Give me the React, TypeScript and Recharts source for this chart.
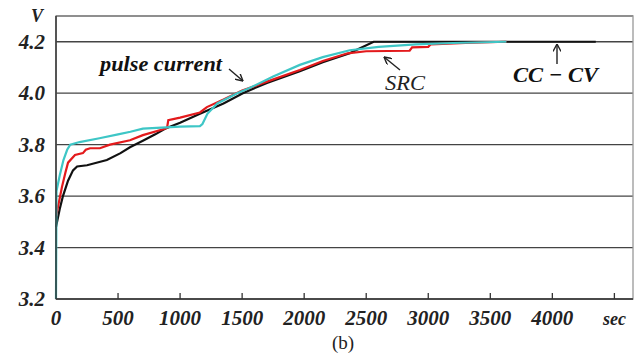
import {
  LineChart,
  Line,
  XAxis,
  YAxis,
  CartesianGrid,
  ReferenceArea,
} from "recharts";

// CC-CV charging (black)
const ccTime = [0, 30, 56, 97, 137, 170, 250, 410, 520, 596, 700, 800, 878, 1000, 1160, 1350, 1506, 1700, 1965, 2150, 2367, 2450, 2560, 4350];
const ccVolt = [3.48, 3.55, 3.6, 3.66, 3.7, 3.715, 3.72, 3.74, 3.767, 3.79, 3.815, 3.84, 3.862, 3.885, 3.92, 3.96, 4.0, 4.04, 4.085, 4.12, 4.155, 4.175, 4.2, 4.2];

// SRC charging (red)
const srcTime = [0, 25, 48, 75, 97, 153, 217, 240, 274, 354, 435, 596, 700, 878, 895, 905, 1000, 1160, 1216, 1350, 1500, 1700, 1965, 2150, 2350, 2500, 2850, 2870, 3000, 3020, 3300, 3630];
const srcVolt = [3.52, 3.58, 3.635, 3.69, 3.73, 3.76, 3.767, 3.78, 3.786, 3.786, 3.8, 3.817, 3.837, 3.862, 3.866, 3.895, 3.905, 3.925, 3.946, 3.975, 4.01, 4.045, 4.09, 4.125, 4.155, 4.163, 4.165, 4.178, 4.18, 4.19, 4.195, 4.2];

// pulse current charging (cyan)
const pulseTime = [0, 4, 30, 60, 90, 115, 190, 350, 500, 600, 700, 850, 1000, 1160, 1180, 1220, 1300, 1460, 1560, 1750, 1965, 2150, 2367, 2600, 2900, 3200, 3630];
const pulseVolt = [3.2, 3.62, 3.68, 3.74, 3.78, 3.8, 3.81, 3.825, 3.84, 3.85, 3.862, 3.866, 3.87, 3.872, 3.88, 3.92, 3.96, 4.0, 4.02, 4.065, 4.11, 4.14, 4.167, 4.18, 4.19, 4.195, 4.2];

const xTicks = [0, 500, 1000, 1500, 2000, 2500, 3000, 3500, 4000, 4500];
const yTicks = [3.2, 3.4, 3.6, 3.8, 4.0, 4.2];

const toRows = (t: number[], v: number[]) => t.map((x, i) => ({ t: x, v: v[i] }));

const ccData = toRows(ccTime, ccVolt);
const srcData = toRows(srcTime, srcVolt);
const pulseData = toRows(pulseTime, pulseVolt);

const serif = { fontFamily: "Liberation Serif" };
const boldItalic = { ...serif, fontWeight: "bold" as const, fontStyle: "italic" as const };

const XTick = ({ x, y, payload }: any) => (
  <g>
    {payload.value > 0 && (
      <line x1={x} x2={x} y1={y} y2={y - 6} stroke="#333" strokeWidth={1.3} />
    )}
    <text
      x={x}
      y={y + 26}
      textAnchor="middle"
      style={{ ...boldItalic, fontSize: payload.value === 4500 ? 18 : 21 }}
      fill="#222"
    >
      {payload.value === 4500 ? "sec" : payload.value}
    </text>
  </g>
);

const YTick = ({ x, y, payload }: any) => (
  <text x={x} y={y + 7} textAnchor="end" style={{ ...boldItalic, fontSize: 21 }} fill="#222">
    {payload.value.toFixed(1)}
  </text>
);

const App = () => {
  return (
    <div style={{ position: "absolute", left: 0, top: 0, width: 640, height: 356, background: "#fff" }}>
      <LineChart
        width={640}
        height={356}
        margin={{ top: 16, right: 7, bottom: 0, left: 0 }}
      >
        <CartesianGrid vertical={false} stroke="#444" strokeWidth={1.3} />
        <ReferenceArea
          x1={0}
          x2={4650}
          y1={3.2}
          y2={4.3}
          fill="none"
          stroke="#999"
          strokeWidth={1.3}
        />
        <XAxis
          type="number"
          dataKey="t"
          domain={[0, 4650]}
          ticks={xTicks}
          height={57}
          tickSize={0}
          tickMargin={0}
          tickLine={false}
          axisLine={{ stroke: "#333", strokeWidth: 1.5 }}
          tick={<XTick />}
          interval={0}
        />
        <YAxis
          type="number"
          domain={[3.2, 4.3]}
          ticks={yTicks}
          width={56}
          tickSize={0}
          tickMargin={11}
          tickLine={false}
          axisLine={{ stroke: "#333", strokeWidth: 1.5 }}
          tick={<YTick />}
          interval={0}
        />
        <Line data={ccData} dataKey="v" type="linear" stroke="#111" strokeWidth={2.2} dot={false} isAnimationActive={false} />
        <Line data={srcData} dataKey="v" type="linear" stroke="#e31a1c" strokeWidth={2.2} dot={false} isAnimationActive={false} />
        <Line data={pulseData} dataKey="v" type="linear" stroke="#3ec6c6" strokeWidth={2.2} dot={false} isAnimationActive={false} />
      </LineChart>
      <svg
        width={640}
        height={356}
        style={{ position: "absolute", left: 0, top: 0, pointerEvents: "none" }}
      >
        <defs>
          <marker
            id="arrow"
            viewBox="0 0 8 8"
            refX={7.5}
            refY={4}
            markerWidth={8}
            markerHeight={8}
            markerUnits="userSpaceOnUse"
            orient="auto"
          >
            <path d="M0,0 L7.5,4 L0,8" fill="none" stroke="#222" strokeWidth={1.4} />
          </marker>
        </defs>
        <text x={37} y={22} textAnchor="middle" style={{ ...boldItalic, fontSize: 18 }} fill="#222">
          V
        </text>
        <text x={100} y={71} style={{ ...boldItalic, fontSize: 20 }} fill="#111" textLength={122} lengthAdjust="spacingAndGlyphs">
          pulse current
        </text>
        <line x1={229} y1={69} x2={243} y2={81} stroke="#222" strokeWidth={1.4} markerEnd="url(#arrow)" />
        <line x1={400} y1={70} x2={384} y2={57} stroke="#222" strokeWidth={1.4} markerEnd="url(#arrow)" />
        <text x={385} y={90} style={{ ...serif, fontStyle: "italic", fontSize: 21 }} fill="#222" textLength={40} lengthAdjust="spacingAndGlyphs">
          SRC
        </text>
        <line x1={557} y1={64} x2={557} y2={44} stroke="#222" strokeWidth={1.4} markerEnd="url(#arrow)" />
        <text x={513} y={82} style={{ ...boldItalic, fontSize: 22 }} fill="#111" textLength={85} lengthAdjust="spacingAndGlyphs">
          CC − CV
        </text>
        <text x={343} y={349} textAnchor="middle" style={{ ...serif, fontSize: 19 }} fill="#222">
          (b)
        </text>
      </svg>
    </div>
  );
};

export default App;
